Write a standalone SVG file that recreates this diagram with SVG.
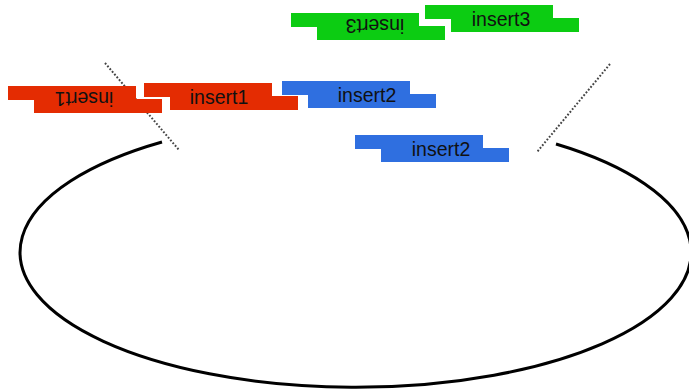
<svg xmlns="http://www.w3.org/2000/svg" width="689" height="392" viewBox="0 0 689 392">
<style>
.red{fill:#e42c02}
.blue{fill:#2f6fe0}
.green{fill:#0ccc12}
.lbl{font-family:"Liberation Sans",Arial,sans-serif;font-size:19.5px;fill:#111;text-anchor:middle}
.dot{stroke:#444;stroke-width:2;stroke-dasharray:1.8 1.8;fill:none}
</style>
<defs>
<g id="strand">
<rect x="0" y="0" width="128" height="14"/>
<rect x="26" y="13" width="128" height="14"/>
</g>
</defs>
<g id="connectors">
<path d="M162,142 A335.5,135 0 1 0 556,144" fill="none" stroke="#000" stroke-width="3"/>
<line class="dot" x1="105" y1="63" x2="179" y2="150"/>
<line class="dot" x1="610" y1="64" x2="537" y2="152"/>
</g>
<g id="insert1-rev" transform="translate(162,113) rotate(180)">
<use href="#strand" class="red"/>
<text class="lbl" x="78" y="21">insert1</text>
</g>
<g id="insert1" transform="translate(144,83)">
<use href="#strand" class="red"/>
<text class="lbl" x="75" y="21">insert1</text>
</g>
<g id="insert2-top" transform="translate(282,81)">
<use href="#strand" class="blue"/>
<text class="lbl" x="85" y="21">insert2</text>
</g>
<g id="insert2-low" transform="translate(355,135)">
<use href="#strand" class="blue"/>
<text class="lbl" x="86" y="21">insert2</text>
</g>
<g id="insert3-rev" transform="translate(445,40) rotate(180)">
<use href="#strand" class="green"/>
<text class="lbl" x="70" y="21">insert3</text>
</g>
<g id="insert3" transform="translate(425,5)">
<use href="#strand" class="green"/>
<text class="lbl" x="76" y="21">insert3</text>
</g>
</svg>
